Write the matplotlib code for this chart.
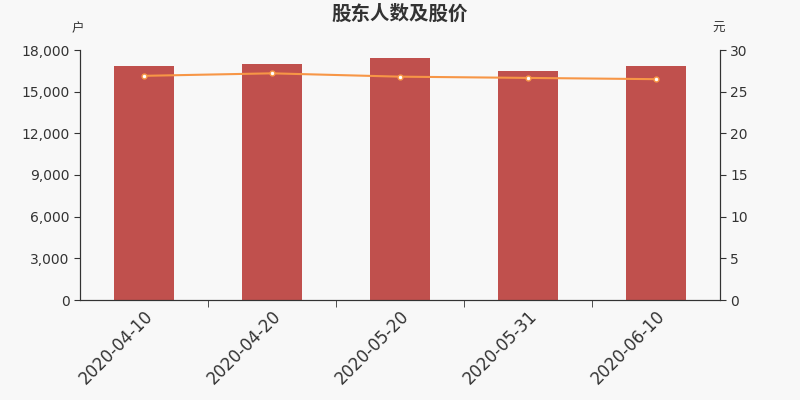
import matplotlib
matplotlib.use('Agg')
import matplotlib.pyplot as plt
import numpy as np

plt.rcParams['font.family'] = ['DejaVu Sans', 'Noto Sans CJK SC']

dates = ['2020-04-10', '2020-04-20', '2020-05-20', '2020-05-31', '2020-06-10']
holders = [16880, 17000, 17420, 16520, 16880]
price = [26.9, 27.2, 26.8, 26.65, 26.5]

fig = plt.figure(figsize=(8, 4), dpi=100, facecolor='#f8f8f8')
ax = fig.add_axes([0.1, 0.25, 0.8, 0.625])
ax.set_facecolor('#f8f8f8')
x = np.arange(len(dates))
ax.bar(x, holders, width=0.47, color='#c0504d', zorder=2)
ax.set_xlim(-0.5, len(dates) - 0.5)
ax.set_ylim(0, 18000)
ax.set_yticks(np.arange(0, 18001, 3000))
ax.set_yticklabels([f'{v:,}' for v in range(0, 18001, 3000)], fontsize=10, color='#333333')
ax.set_xticks(x)
ax.set_xticklabels(dates, rotation=45, ha='right', rotation_mode='anchor', fontsize=12, color='#333333')
ax.tick_params(axis='x', length=0, pad=5)
ax.set_xticks(x[:-1] + 0.5, minor=True)
ax.tick_params(axis='x', which='minor', length=5, color='#333333')
ax.tick_params(axis='y', length=4, color='#333333')
ax.spines['top'].set_visible(False)
for s in ['left', 'right', 'bottom']:
    ax.spines[s].set_color('#333333')

ax2 = ax.twinx()
ax2.plot(x, price, color='#f79646', lw=1.5, marker='o', markersize=3.5,
         markerfacecolor='white', markeredgecolor='#f79646', markeredgewidth=1, zorder=3)
ax2.set_ylim(0, 30)
ax2.set_yticks(np.arange(0, 31, 5))
ax2.tick_params(axis='y', length=4, color='#333333', labelsize=10, labelcolor='#333333')
ax2.spines['top'].set_visible(False)
for s in ['left', 'right', 'bottom']:
    ax2.spines[s].set_color('#333333')

fig.text(0.5, 0.965, '股东人数及股价', ha='center', va='center', fontsize=14, fontweight='bold',
         color='#333333', family=['Noto Sans CJK SC', 'DejaVu Sans'])
fig.text(0.097, 0.928, '户', ha='center', va='center', fontsize=9, color='#333333',
         family=['Noto Sans CJK SC', 'DejaVu Sans'])
fig.text(0.898, 0.928, '元', ha='center', va='center', fontsize=9, color='#333333',
         family=['Noto Sans CJK SC', 'DejaVu Sans'])

fig.savefig('out.png', dpi=100, facecolor=fig.get_facecolor())
